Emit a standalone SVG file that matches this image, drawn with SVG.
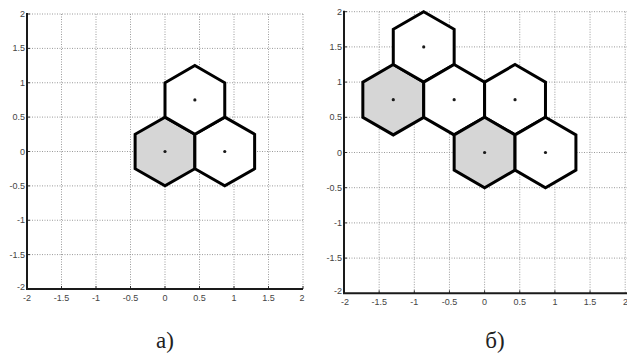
<svg xmlns="http://www.w3.org/2000/svg" width="627" height="356" viewBox="0 0 627 356">
<style>
.grid{stroke:#9a9a9a;stroke-width:1;stroke-dasharray:1 1.5;fill:none}
.axis{stroke:#1a1a1a;stroke-width:2;fill:none}
.tick{stroke:#333;stroke-width:1}
.hex{stroke:#000;stroke-width:3;stroke-linejoin:miter;fill:#fff}
.hex.g{fill:#d6d6d6}
.dot{fill:#1a1a1a}
.tl{font-family:"Liberation Sans",Arial,sans-serif;font-size:9px;fill:#444}
.cap{font-family:"Liberation Serif","Times New Roman",serif;font-size:23px;fill:#222;text-anchor:middle}
</style>
<rect width="627" height="356" fill="#fff"/>

<g id="plot-a">
  <g id="grid-a" class="grid">
    <path d="M61.5 14V289M96 14V289M130.5 14V289M165 14V289M199.5 14V289M234 14V289M268.5 14V289M303 14V289"/>
    <path d="M27 14H303M27 48.4H303M27 82.75H303M27 117.1H303M27 151.5H303M27 185.9H303M27 220.25H303M27 254.6H303"/>
  </g>
  <g id="ticks-a" class="tick">
    <path d="M27 14h3M27 48.4h3M27 82.75h3M27 117.1h3M27 151.5h3M27 185.9h3M27 220.25h3M27 254.6h3"/>
    <path d="M61.5 289v-3M96 289v-3M130.5 289v-3M165 289v-3M199.5 289v-3M234 289v-3M268.5 289v-3M303 289v-3"/>
  </g>
  <path id="axes-a" class="axis" d="M27 13V289H303"/>
  <g id="ylabels-a" class="tl" text-anchor="end">
    <text x="25" y="17">2</text>
    <text x="25" y="51.4">1.5</text>
    <text x="25" y="85.75">1</text>
    <text x="25" y="120.1">0.5</text>
    <text x="25" y="154.5">0</text>
    <text x="25" y="188.9">-0.5</text>
    <text x="25" y="223.25">-1</text>
    <text x="25" y="257.6">-1.5</text>
    <text x="25" y="290">-2</text>
  </g>
  <g id="xlabels-a" class="tl" text-anchor="middle">
    <text x="27" y="301">-2</text>
    <text x="61.5" y="301">-1.5</text>
    <text x="96" y="301">-1</text>
    <text x="130.5" y="301">-0.5</text>
    <text x="165" y="301">0</text>
    <text x="199.5" y="301">0.5</text>
    <text x="234" y="301">1</text>
    <text x="268.5" y="301">1.5</text>
    <text x="302" y="301">2</text>
  </g>
  <g id="hex-a1"><polygon class="hex g" points="165,117.12 194.88,134.31 194.88,168.69 165,185.88 135.12,168.69 135.12,134.31"/><circle class="dot" cx="165" cy="151.5" r="1.6"/></g>
  <g id="hex-a2"><polygon class="hex" points="224.75,117.12 254.63,134.31 254.63,168.69 224.75,185.88 194.87,168.69 194.87,134.31"/><circle class="dot" cx="224.75" cy="151.5" r="1.6"/></g>
  <g id="hex-a3"><polygon class="hex" points="194.88,65.56 224.76,82.75 224.76,117.13 194.88,134.32 165,117.13 165,82.75"/><circle class="dot" cx="194.88" cy="99.94" r="1.6"/></g>
  <text id="cap-a" class="cap" x="165" y="348">а)</text>
</g>

<g id="plot-b">
  <g id="grid-b" class="grid">
    <path d="M379.15 11.7V293.3M414.3 11.7V293.3M449.45 11.7V293.3M484.6 11.7V293.3M519.75 11.7V293.3M554.9 11.7V293.3M590.05 11.7V293.3M625.2 11.7V293.3"/>
    <path d="M344 11.7H627M344 46.9H627M344 82.1H627M344 117.3H627M344 152.5H627M344 187.7H627M344 222.9H627M344 258.1H627"/>
  </g>
  <g id="ticks-b" class="tick">
    <path d="M344 11.7h3M344 46.9h3M344 82.1h3M344 117.3h3M344 152.5h3M344 187.7h3M344 222.9h3M344 258.1h3"/>
    <path d="M379.15 293.3v-3M414.3 293.3v-3M449.45 293.3v-3M484.6 293.3v-3M519.75 293.3v-3M554.9 293.3v-3M590.05 293.3v-3"/>
  </g>
  <path id="axes-b" class="axis" d="M344 10.7V293.3H627"/>
  <g id="ylabels-b" class="tl" text-anchor="end">
    <text x="342" y="14.7">2</text>
    <text x="342" y="49.9">1.5</text>
    <text x="342" y="85.1">1</text>
    <text x="342" y="120.3">0.5</text>
    <text x="342" y="155.5">0</text>
    <text x="342" y="190.7">-0.5</text>
    <text x="342" y="225.9">-1</text>
    <text x="342" y="261.1">-1.5</text>
    <text x="342" y="294">-2</text>
  </g>
  <g id="xlabels-b" class="tl" text-anchor="middle">
    <text x="345" y="305">-2</text>
    <text x="379.15" y="305">-1.5</text>
    <text x="414.3" y="305">-1</text>
    <text x="449.45" y="305">-0.5</text>
    <text x="484.6" y="305">0</text>
    <text x="519.75" y="305">0.5</text>
    <text x="554.9" y="305">1</text>
    <text x="590.05" y="305">1.5</text>
    <text x="625.5" y="305">2</text>
  </g>
  <g id="hex-b1"><polygon class="hex g" points="393.28,64.5 423.72,82.1 423.72,117.3 393.28,134.9 362.84,117.3 362.84,82.1"/><circle class="dot" cx="393.28" cy="99.7" r="1.6"/></g>
  <g id="hex-b2"><polygon class="hex" points="423.72,11.7 454.16,29.3 454.16,64.5 423.72,82.1 393.28,64.5 393.28,29.3"/><circle class="dot" cx="423.72" cy="46.9" r="1.6"/></g>
  <g id="hex-b3"><polygon class="hex" points="454.16,64.5 484.6,82.1 484.6,117.3 454.16,134.9 423.72,117.3 423.72,82.1"/><circle class="dot" cx="454.16" cy="99.7" r="1.6"/></g>
  <g id="hex-b4"><polygon class="hex" points="515.04,64.5 545.48,82.1 545.48,117.3 515.04,134.9 484.6,117.3 484.6,82.1"/><circle class="dot" cx="515.04" cy="99.7" r="1.6"/></g>
  <g id="hex-b5"><polygon class="hex g" points="484.6,117.3 515.04,134.9 515.04,170.1 484.6,187.7 454.16,170.1 454.16,134.9"/><circle class="dot" cx="484.6" cy="152.5" r="1.6"/></g>
  <g id="hex-b6"><polygon class="hex" points="545.48,117.3 575.92,134.9 575.92,170.1 545.48,187.7 515.04,170.1 515.04,134.9"/><circle class="dot" cx="545.48" cy="152.5" r="1.6"/></g>
  <text id="cap-b" class="cap" x="495" y="348">б)</text>
</g>
</svg>
